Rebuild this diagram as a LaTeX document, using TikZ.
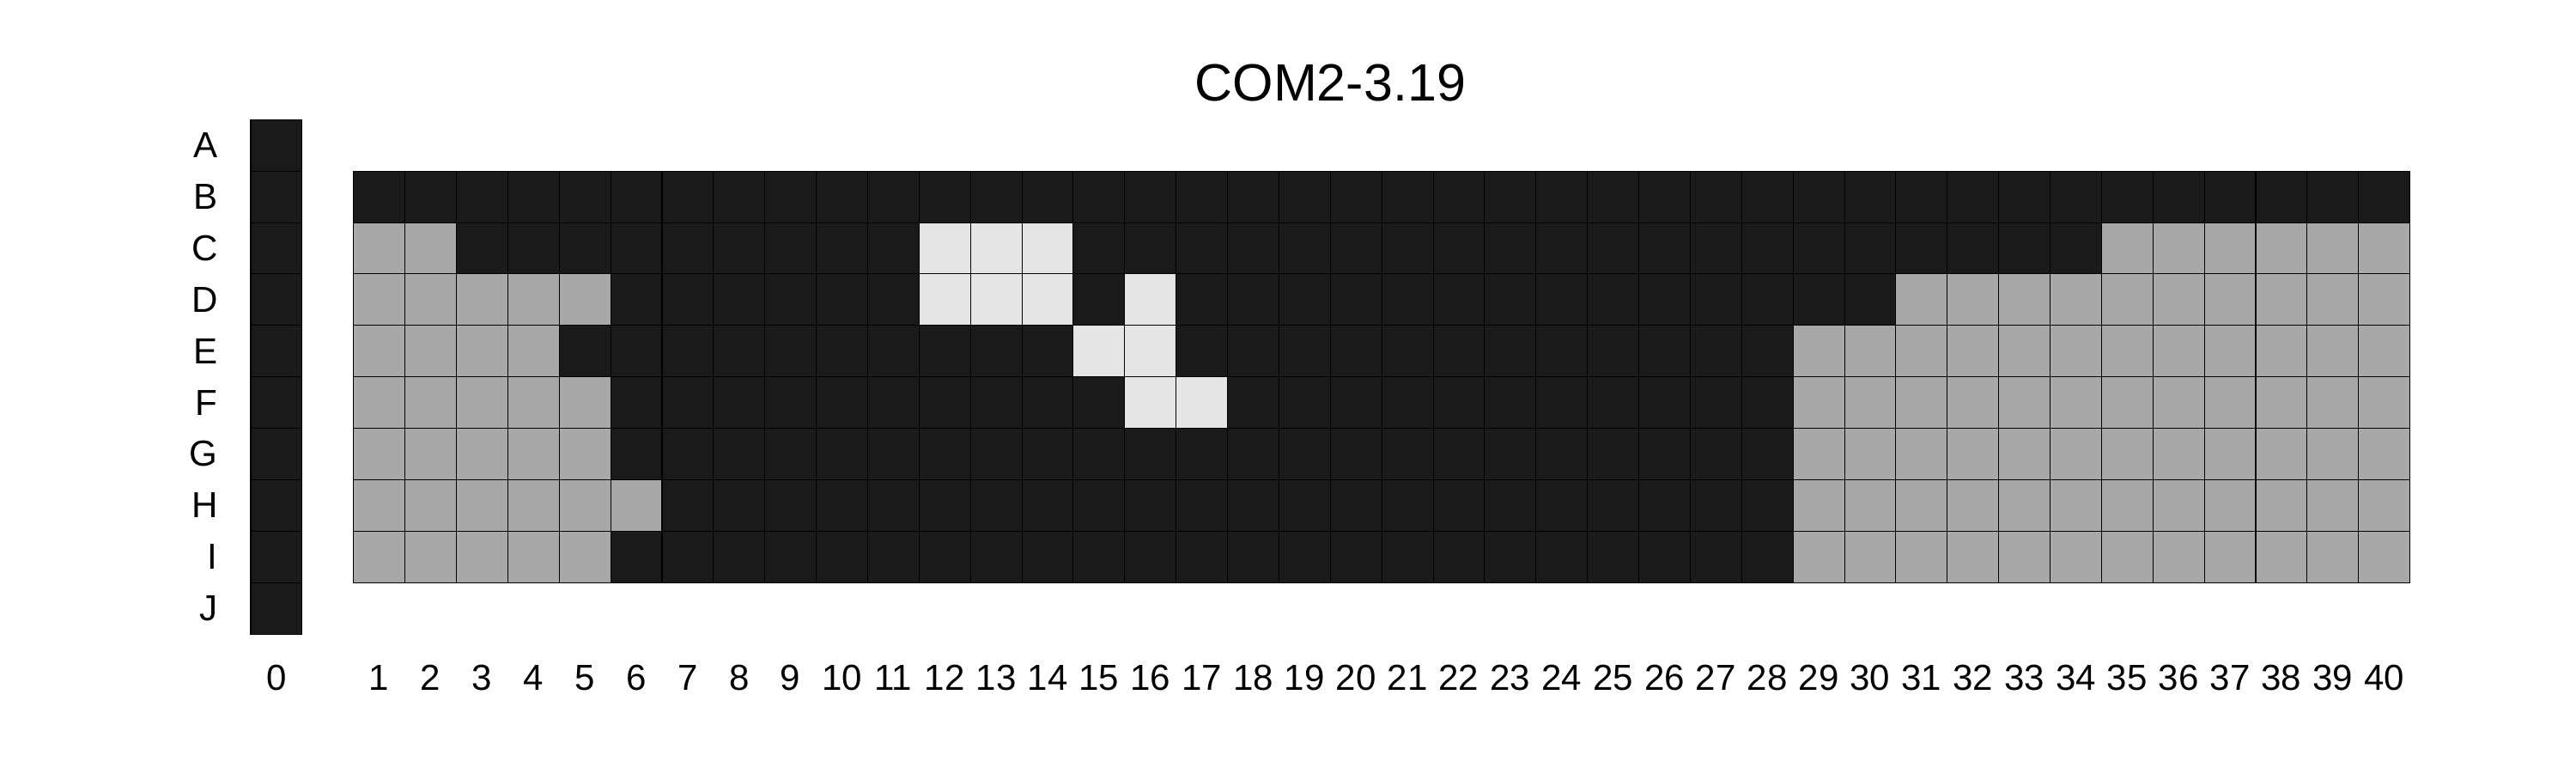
\documentclass[tikz,border=0pt]{standalone}
\usepackage{fontspec}
\setmainfont{Liberation Sans}
\definecolor{darkcell}{HTML}{1A1A1A}
\definecolor{midcell}{HTML}{A8A8A8}
\definecolor{lightcell}{HTML}{E5E5E5}
\begin{document}
\begin{tikzpicture}[cellline/.style={draw=black,line width=0.5pt},
  rowlab/.style={anchor=east,inner sep=0pt,font=\fontsize{20}{24}\selectfont},
  collab/.style={inner sep=0pt,font=\fontsize{20}{24}\selectfont}]
 \useasboundingbox (-4.877,-2.706) rectangle (45.23,12.327);
 % column 0, rows A to J
 \foreach \y in {0,...,9}
  \draw[cellline,fill=darkcell] (0,\y) rectangle (1,\y+1);
 % columns 1 to 40, rows B (y=8) to I (y=1): grey up to \a and from \b on
 \foreach \y/\a/\b in {8/0/41,7/2/35,6/5/31,5/4/29,4/5/29,3/5/29,2/6/29,1/5/29}
  \foreach \k in {1,...,40}{
   \ifnum\k>\a \ifnum\k<\b \def\fc{darkcell}\else\def\fc{midcell}\fi
   \else\def\fc{midcell}\fi
   \draw[cellline,fill=\fc] (\k+1,\y) rectangle (\k+2,\y+1);
  }
 % light cells
 \foreach \k/\y in {12/7,13/7,14/7,12/6,13/6,14/6,16/6,15/5,16/5,16/4,17/4}
  \draw[cellline,fill=lightcell] (\k+1,\y) rectangle (\k+2,\y+1);
 % labels
 \foreach \l [count=\i from 0] in {A,B,C,D,E,F,G,H,I,J}
  \node[rowlab] (row\l) at (-0.635,9.5-\i) {\l};
 \node[collab] (col0) at (0.5,-0.85) {0};
 \foreach \k in {1,...,40}
  \node[collab] (col\k) at (\k+1.5,-0.85) {\k};
 \node[font=\fontsize{29}{34}\selectfont] (title) at (21,10.71) {COM2-3.19};
\end{tikzpicture}
\end{document}
